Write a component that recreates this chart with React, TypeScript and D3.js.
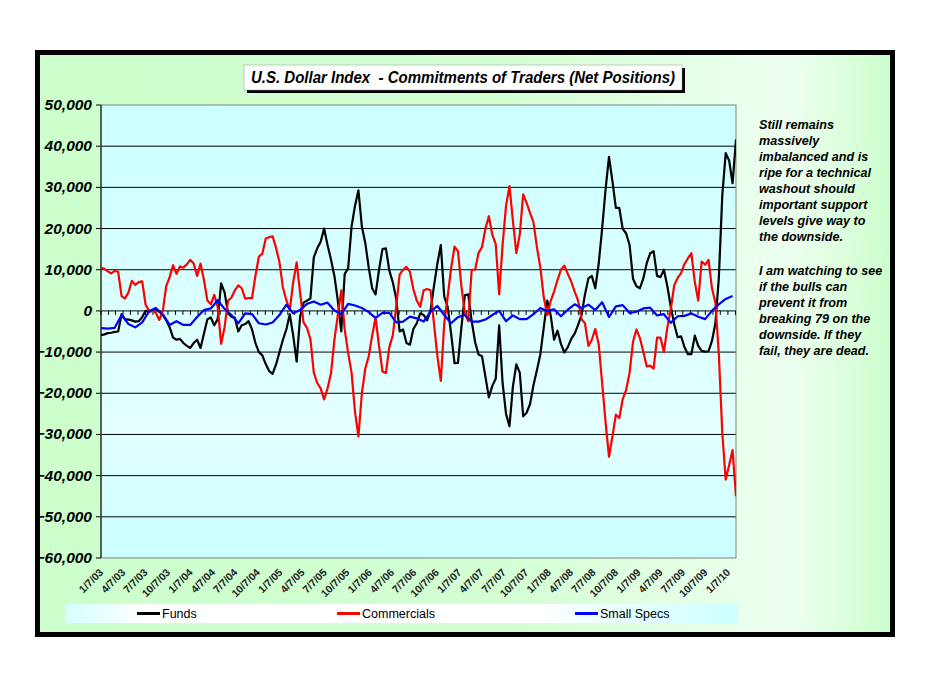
import * as d3 from 'd3';

// weekly COT net positions, read every 2 weeks (small specs every 4 weeks), in thousands of contracts
const START = new Date(2003, 0, 7);
const STEP_DAYS = 14;
const SPECS_STEP_DAYS = 28;

const funds = [
  -5.9, -5.7, -5.4, -5.3, -5.1, -5.0, -0.8, -2.0, -2.1, -2.3,
  -2.6, -2.5, -1.5, 0, -0.2, 0, 0.3, -0.2, -1.0, -2.3,
  -4.0, -6.5, -7.0, -6.8, -7.8, -8.5, -9.0, -7.8, -7.0, -9.0,
  -5.5, -2.0, -1.6, -3.5, -2.0, 6.7, 4.5, -0.5, -1.4, -1.7,
  -5.0, -3.5, -3.2, -2.5, -4.5, -7.8, -10.0, -10.8, -12.9, -14.6,
  -15.3, -13.0, -10.0, -7.0, -4.5, -0.8, -6.0, -12.3, -1.5, 2.0,
  2.5, 3.0, 13.0, 15.2, 16.8, 20.0, 16.0, 12.5, 8.5, 2.5,
  -5.0, 9.0, 10.3, 20.5, 25.5, 29.3, 20.5, 16.5, 10.5, 5.5,
  4.0, 10.0, 15.0, 15.2, 9.8, 7.0, 3.0, -5.0, -4.5, -7.8,
  -8.2, -4.4, -3.0, -0.6, -1.0, -2.3, 0.0, 6.0, 11.5, 16.0,
  3.5, 1.0, -5.5, -12.7, -12.6, -4.0, 3.8, 4.0, -2.5, -7.6,
  -10.6, -11.0, -16.0, -21.0, -18.2, -16.5, -3.5, -17.5, -25.0, -28.0,
  -18.4, -13.0, -15.0, -25.6, -24.7, -22.6, -18.0, -14.4, -10.5, -4.0,
  2.5, -1.0, -7.0, -4.8, -8.0, -10.1, -8.8, -6.8, -5.5, -3.4,
  -1.0, 4.0, 7.9, 8.5, 5.5, 11.5, 20.0, 29.5, 37.4, 31.5,
  25.0, 25.0, 19.9, 18.8, 16.0, 7.8, 6.0, 5.5, 7.9, 11.6,
  14.0, 14.5, 8.5, 8.2, 10.0, 6.0, 1.0, -3.2, -6.4, -6.2,
  -8.8, -10.5, -10.5, -6.0, -8.5, -9.7, -9.9, -9.8, -7.3, -3.0,
  8.0, 28.0, 38.3, 36.5, 31.0, 41.6,
];

const commercials = [
  10.5, 10.2, 9.6, 9.1, 9.7, 9.5, 3.6, 3.0, 4.5, 7.3,
  6.3, 7.0, 7.2, 1.5, 0.0, 0.1, -0.5, -2.2, 0.0, 6.0,
  8.2, 11.1, 9.0, 10.8, 10.5, 11.3, 12.4, 11.5, 8.5, 11.5,
  7.5, 2.5, 1.6, 3.9, 1.0, -8.0, -4.0, 2.5, 3.2, 5.0,
  6.2, 5.5, 3.0, 3.1, 3.1, 8.6, 13.2, 13.9, 17.6, 17.9,
  18.1, 15.3, 11.8, 5.7, 2.6, 0.2, 7.0, 11.8, 4.5, -2.8,
  -4.1, -6.8, -15.0, -17.5, -18.8, -21.5, -18.8, -15.2, -7.0, -1.0,
  5.0, -4.5, -10.2, -15.0, -24.5, -30.5, -20.0, -14.0, -11.0, -6.0,
  -1.6, -8.5, -14.7, -15.1, -8.8, -6.0, 1.0, 8.8, 10.0, 10.7,
  9.5, 5.3, 2.5, 1.0, 5.0, 5.3, 5.0, -3.0, -11.0, -17.0,
  -3.0, 3.5, 10.3, 15.6, 14.5, 6.0, -0.5, -2.5, 10.0, 10.0,
  14.1, 15.5, 20.0, 23.0, 18.5, 16.2, 4.0, 16.0, 25.5, 30.3,
  22.0, 14.0, 18.5, 28.3, 26.2, 23.8, 21.5, 15.5, 10.5, 3.3,
  -1.0, 2.4, 4.7, 7.5, 10.0, 11.0, 9.0, 7.1, 4.7, 2.5,
  -2.0, -3.0, -8.5, -7.0, -4.4, -8.1, -17.5, -27.0, -35.4, -30.5,
  -25.2, -26.0, -21.4, -19.2, -15.0, -7.5, -4.5, -6.6, -9.9, -13.5,
  -13.3, -14.0, -6.5, -6.5, -10.0, -4.0, 0.4, 6.2, 8.0, 9.2,
  11.4, 12.8, 14.0, 7.0, 2.5, 12.0, 11.2, 12.4, 5.5, 2.0,
  -10.5, -29.5, -41.0, -37.5, -33.8, -45.0,
];

const smallSpecs = [
  -4.2, -4.3, -4.1, -1.0, -3.2, -4.0, -2.8, -0.1, 0.7, -0.8,
  -3.4, -2.5, -3.4, -3.4, -1.5, 0.2, 0.6, 2.6, 0.5, -1.0,
  -3.0, -0.6, -0.8, -3.0, -3.3, -2.8, -1.0, 1.5, -0.6, 0.2,
  1.7, 2.3, 1.5, 2.0, 0.1, -0.8, 1.7, 1.3, 0.7, -0.3,
  -1.7, -0.5, -0.5, -2.8, -2.6, -1.4, -1.8, -2.6, -0.2, 1.2,
  -1.0, -3.0, -1.5, -1.0, -2.6, -2.6, -2.1, -1.0, 0.0, -2.5,
  -1.1, -2.0, -2.0, -0.8, 0.7, 0.0, 0.4, -1.3, 0.3, 1.6,
  0.7, 1.5, 0.2, 2.1, -1.5, 1.1, 1.4, -0.5, -0.2, 0.6,
  0.8, -1.1, -0.8, -2.9, -1.3, -1.2, -0.6, -1.4, -2.0, 0.0,
  1.6, 2.9, 3.6,
];

const yTicks = [50, 40, 30, 20, 10, 0, -10, -20, -30, -40, -50, -60];

const xTickLabels = [
  '1/7/03', '4/7/03', '7/7/03', '10/7/03', '1/7/04', '4/7/04', '7/7/04', '10/7/04',
  '1/7/05', '4/7/05', '7/7/05', '10/7/05', '1/7/06', '4/7/06', '7/7/06', '10/7/06',
  '1/7/07', '4/7/07', '7/7/07', '10/7/07', '1/7/08', '4/7/08', '7/7/08', '10/7/08',
  '1/7/09', '4/7/09', '7/7/09', '10/7/09', '1/7/10',
];

const noteTop = [
  'Still remains',
  'massively',
  'imbalanced and is',
  'ripe for a technical',
  'washout should',
  'important support',
  'levels give way to',
  'the downside.',
];
const noteBottom = [
  'I am watching to see',
  'if the bulls can',
  'prevent it from',
  'breaking 79 on the',
  'downside. If they',
  'fail, they are dead.',
];

const series = [
  { name: 'Funds', values: funds, step: STEP_DAYS, color: '#000000' },
  { name: 'Commercials', values: commercials, step: STEP_DAYS, color: '#ff0000' },
  { name: 'Small Specs', values: smallSpecs, step: SPECS_STEP_DAYS, color: '#0000ff' },
];

const FONT = '"Liberation Sans", Arial, sans-serif';

export default function App() {
  const W = 928;
  const H = 678;
  const plot = { left: 101, right: 736, top: 105, bottom: 558 };

  const endDate = d3.timeDay.offset(START, (funds.length - 1) * STEP_DAYS);
  const x = d3.scaleTime().domain([START, endDate]).range([plot.left, plot.right]);
  const y = d3.scaleLinear().domain([-60, 50]).range([plot.bottom, plot.top]);

  const parse = d3.timeParse('%m/%d/%y');
  const fmt = (v: number) => d3.format(',')(v * 1000);
  const monthTicks = d3.timeMonth
    .range(new Date(2003, 0, 1), endDate)
    .map((m) => d3.timeDay.offset(m, 6))
    .filter((d) => d <= endDate);

  const line = (vals: number[], step: number) =>
    d3
      .line<number>()
      .x((_, i) => x(d3.timeDay.offset(START, i * step)))
      .y((v) => y(v))(vals) ?? '';

  const legend = [
    { name: 'Funds', x: 137, color: '#000000' },
    { name: 'Commercials', x: 337, color: '#ff0000' },
    { name: 'Small Specs', x: 575, color: '#0000ff' },
  ];

  return (
    <svg width={W} height={H} style={{ display: 'block', margin: -8 }} fontFamily={FONT}>
      <defs>
        <linearGradient id="bg" x1="0" y1="0" x2="1" y2="0">
          <stop offset="0%" stopColor="#ccffcc" />
          <stop offset="55%" stopColor="#d4ffd4" />
          <stop offset="88%" stopColor="#eefff0" />
          <stop offset="100%" stopColor="#ccffcc" />
        </linearGradient>
        <linearGradient id="plotbg" x1="0" y1="0" x2="0" y2="1">
          <stop offset="0%" stopColor="#ccffff" />
          <stop offset="70%" stopColor="#e4ffff" />
          <stop offset="100%" stopColor="#ccffff" />
        </linearGradient>
        <linearGradient id="legbg" x1="0" y1="0" x2="1" y2="0">
          <stop offset="0%" stopColor="#d6ffff" />
          <stop offset="12%" stopColor="#ffffff" />
          <stop offset="70%" stopColor="#ffffff" />
          <stop offset="100%" stopColor="#ccffff" />
        </linearGradient>
        <clipPath id="clip">
          <rect x={plot.left} y={plot.top} width={plot.right - plot.left} height={plot.bottom - plot.top} />
        </clipPath>
      </defs>

      <rect x={0} y={0} width={W} height={H} fill="#ffffff" />
      <rect x={37.5} y={52.5} width={855} height={582} fill="url(#bg)" stroke="#000" strokeWidth={5} />

      {/* title */}
      <rect x={247} y={68} width={438} height={25} fill="#000" />
      <rect x={244} y={65} width={438} height={25} fill="#fff" stroke="#999" strokeWidth={0.5} />
      <text
        x={463}
        y={83}
        textAnchor="middle"
        fontSize={16}
        fontWeight="bold"
        fontStyle="italic"
        textLength={424}
        lengthAdjust="spacingAndGlyphs"
        style={{ whiteSpace: 'pre' }}
      >
        {'U.S. Dollar Index  - Commitments of Traders (Net Positions)'}
      </text>

      {/* plot area */}
      <rect
        x={plot.left}
        y={plot.top}
        width={plot.right - plot.left}
        height={plot.bottom - plot.top}
        fill="url(#plotbg)"
      />
      {yTicks.map((t) => (
        <g key={t}>
          {t !== 50 && t !== -60 && (
            <line x1={plot.left} x2={plot.right} y1={y(t)} y2={y(t)} stroke="#000" strokeWidth={1} />
          )}
          <line x1={plot.left - 5} x2={plot.left} y1={y(t)} y2={y(t)} stroke="#000" strokeWidth={1} />
          <text
            x={92}
            y={y(t) + 5}
            textAnchor="end"
            fontSize={15.5}
            fontWeight="bold"
            fontStyle="italic"
          >
            {fmt(t)}
          </text>
        </g>
      ))}
      <rect
        x={plot.left}
        y={plot.top}
        width={plot.right - plot.left}
        height={plot.bottom - plot.top}
        fill="none"
        stroke="#808080"
        strokeWidth={1}
      />
      <line x1={plot.left} x2={plot.left} y1={plot.top} y2={plot.bottom} stroke="#000" strokeWidth={1} />

      {/* month ticks on the zero line */}
      {monthTicks.map((d, i) => (
        <line key={i} x1={x(d)} x2={x(d)} y1={y(0)} y2={y(0) + 4} stroke="#000" strokeWidth={1} />
      ))}

      {/* date labels */}
      {xTickLabels.map((lab) => {
        const d = parse(lab) as Date;
        const px = x(d);
        return (
          <text
            key={lab}
            transform={`translate(${px + 3},${plot.bottom + 15}) rotate(-45)`}
            textAnchor="end"
            fontSize={10.5}
            fontWeight="bold"
            fill="#222"
          >
            {lab}
          </text>
        );
      })}

      {/* series */}
      <g clipPath="url(#clip)">
        {series.map((s) => (
          <path
            key={s.name}
            d={line(s.values, s.step)}
            fill="none"
            stroke={s.color}
            strokeWidth={2.2}
            strokeLinejoin="round"
          />
        ))}
      </g>

      {/* legend */}
      <rect x={65} y={604} width={673} height={19} fill="url(#legbg)" />
      {legend.map((l) => (
        <g key={l.name}>
          <line x1={l.x} x2={l.x + 23} y1={613.5} y2={613.5} stroke={l.color} strokeWidth={3} />
          <text x={l.x + 25} y={618} fontSize={12.5}>
            {l.name}
          </text>
        </g>
      ))}

      {/* commentary */}
      <g fontSize={12.6} fontWeight="bold" fontStyle="italic">
        {noteTop.map((t, i) => (
          <text key={t} x={759} y={129 + i * 16}>
            {t}
          </text>
        ))}
        {noteBottom.map((t, i) => (
          <text key={t} x={759} y={275 + i * 16}>
            {t}
          </text>
        ))}
      </g>
    </svg>
  );
}
